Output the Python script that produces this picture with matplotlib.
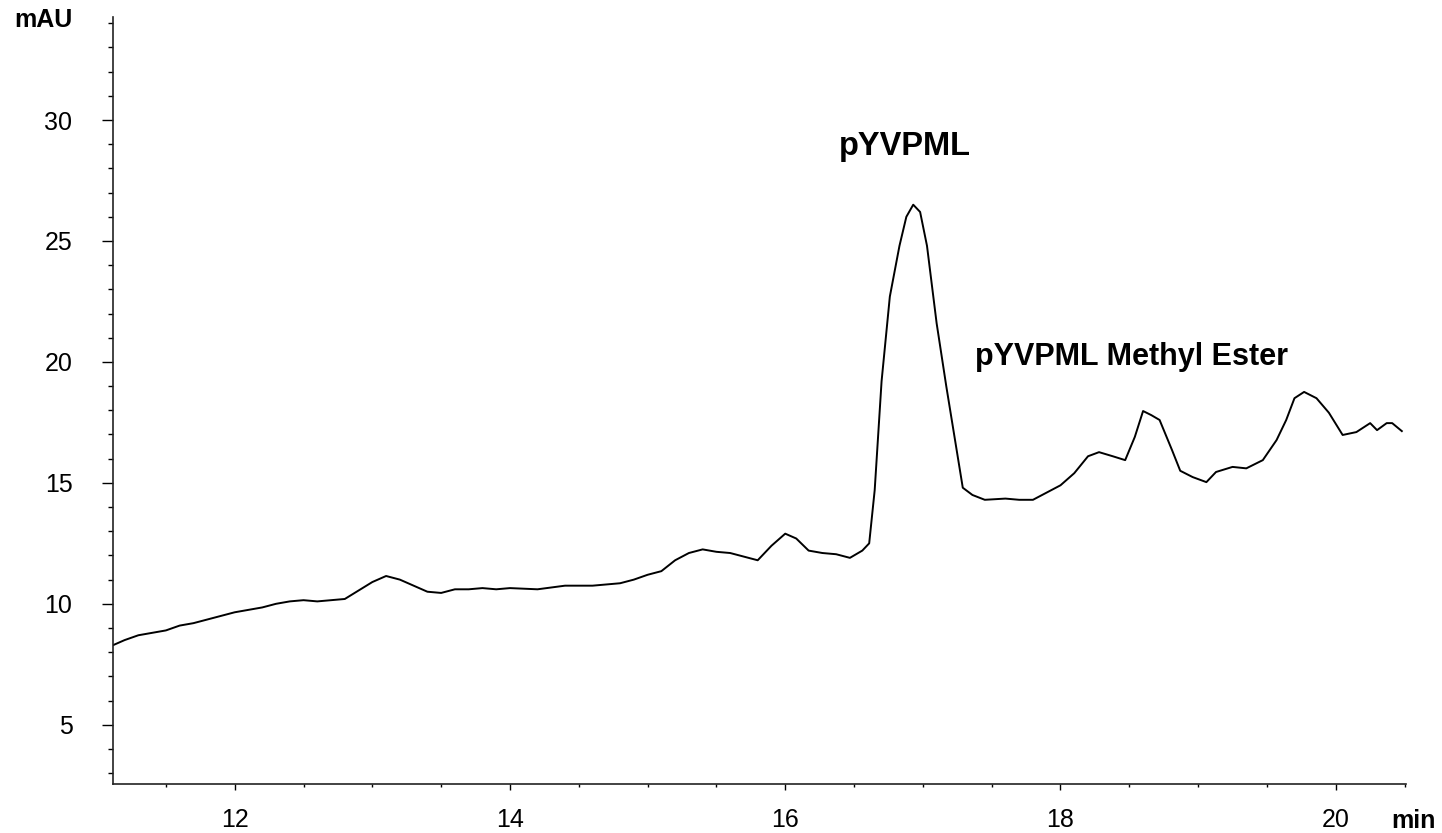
import matplotlib
matplotlib.use("Agg")
import matplotlib.pyplot as plt
from matplotlib.ticker import MultipleLocator, FixedLocator

plt.rcParams['font.family'] = ['Liberation Sans', 'DejaVu Sans']

# Retention time (min) and absorbance (mAU)
time_min = [11.12, 11.2, 11.3, 11.4, 11.5, 11.6, 11.7, 11.8, 11.9, 12.0,
            12.1, 12.2, 12.3, 12.4, 12.5, 12.6, 12.7, 12.8, 12.9, 13.0,
            13.1, 13.2, 13.3, 13.4, 13.5, 13.6, 13.7, 13.8, 13.9, 14.0,
            14.2, 14.4, 14.6, 14.8, 14.9, 15.0, 15.1, 15.2, 15.3, 15.4,
            15.5, 15.6, 15.7, 15.8, 15.9, 16.0, 16.08, 16.17, 16.27, 16.37,
            16.47, 16.56, 16.61, 16.65, 16.70, 16.76, 16.83, 16.88, 16.93, 16.98,
            17.03, 17.10, 17.17, 17.25, 17.29, 17.36, 17.45, 17.6, 17.7, 17.8,
            17.9, 18.0, 18.1, 18.2, 18.28, 18.38, 18.47, 18.54, 18.60, 18.66,
            18.72, 18.81, 18.87, 18.96, 19.06, 19.13, 19.25, 19.35, 19.47, 19.57,
            19.64, 19.70, 19.77, 19.86, 19.95, 20.05, 20.15, 20.25, 20.30, 20.37,
            20.41, 20.48]
absorbance_mau = [8.3, 8.5, 8.7, 8.8, 8.9, 9.1, 9.2, 9.35, 9.5, 9.65,
                  9.75, 9.85, 10.0, 10.1, 10.15, 10.1, 10.15, 10.2, 10.55, 10.9,
                  11.15, 11.0, 10.75, 10.5, 10.45, 10.6, 10.6, 10.65, 10.6, 10.65,
                  10.6, 10.75, 10.75, 10.85, 11.0, 11.2, 11.35, 11.8, 12.1, 12.25,
                  12.15, 12.1, 11.95, 11.8, 12.4, 12.9, 12.7, 12.2, 12.1, 12.05,
                  11.9, 12.2, 12.5, 14.7, 19.2, 22.7, 24.8, 26.0, 26.5, 26.2,
                  24.8, 21.6, 19.0, 16.2, 14.8, 14.5, 14.3, 14.35, 14.3, 14.3,
                  14.6, 14.9, 15.4, 16.1, 16.27, 16.1, 15.94, 16.9, 17.97, 17.8,
                  17.6, 16.36, 15.5, 15.24, 15.03, 15.45, 15.66, 15.6, 15.94, 16.77,
                  17.6, 18.5, 18.76, 18.5, 17.9, 16.98, 17.1, 17.47, 17.18, 17.47,
                  17.47, 17.14]

x_major = [12, 14, 16, 18, 20]
y_major = [5, 10, 15, 20, 25, 30]
peak_labels = ["pYVPML", "pYVPML Methyl Ester"]
peak_label_pos = [(16.39, 28.55), (17.38, 19.86)]
peak_label_size = [23.5, 22]

fig = plt.figure(figsize=(14.42, 8.33), dpi=100)
ax = fig.add_axes([0.0782, 0.0588, 0.8968, 0.9208])
ax.plot(time_min, absorbance_mau, color='black', lw=1.4)

ax.set_xlim(11.114, 20.51)
ax.set_ylim(2.55, 34.26)

for side in ['top', 'right']:
    ax.spines[side].set_visible(False)
for side in ['left', 'bottom']:
    ax.spines[side].set_linewidth(1.2)
    ax.spines[side].set_color('#222222')

ax.xaxis.set_major_locator(FixedLocator(x_major))
ax.xaxis.set_minor_locator(MultipleLocator(0.5))
ax.yaxis.set_major_locator(FixedLocator(y_major))
ax.yaxis.set_minor_locator(MultipleLocator(1))
ax.set_xticklabels([str(v) for v in x_major])
ax.set_yticklabels([str(v) for v in y_major])

ax.tick_params(axis='x', which='major', length=4.5, width=1.0, pad=13, labelsize=18)
ax.tick_params(axis='x', which='minor', length=2.2, width=1.0)
ax.tick_params(axis='y', which='major', length=8, width=1.0, pad=21, labelsize=18)
ax.tick_params(axis='y', which='minor', length=3.8, width=1.0)

fig.text(43 / 1442, 1 - 20 / 833, "mAU", ha='center', va='center',
         fontsize=18, fontweight='bold')
fig.text(1413 / 1442, 1 - 821 / 833, "min", ha='center', va='center',
         fontsize=18, fontweight='bold')

for label, (lx, ly), fs in zip(peak_labels, peak_label_pos, peak_label_size):
    ax.text(lx, ly, label, ha='left', va='baseline', fontsize=fs,
            fontweight='bold')

fig.savefig("out.png", dpi=100)
